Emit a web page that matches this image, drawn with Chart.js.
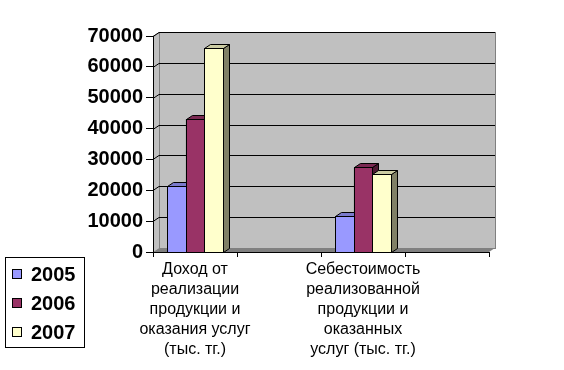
<!DOCTYPE html>
<html lang="ru">
<head>
    <meta charset="UTF-8">
    <title>Доход и себестоимость</title>
    <script src="https://cdn.jsdelivr.net/npm/chart.js"></script>
    <style>
        html, body { margin: 0; padding: 0; background: #fff; }
        #wrap { width: 564px; height: 370px; }
    </style>
</head>
<body>
    <div id="wrap"><canvas id="chart" width="564" height="370"></canvas></div>

    <script>
        // данные
        const categories = [
            ['Доход от', 'реализации', 'продукции и', 'оказания услуг', '(тыс. тг.)'],
            '',
            ['Себестоимость', 'реализованной', 'продукции и', 'оказанных', 'услуг (тыс. тг.)'],
            ''
        ];
        const years = ['2005', '2006', '2007'];
        const values2005 = [21300, null, 11700, null];
        const values2006 = [43100, null, 27400, null];
        const values2007 = [66000, null, 25400, null];
        const yTicks = [0, 10000, 20000, 30000, 40000, 50000, 60000, 70000];

        const colors = ['#9999FF', '#993366', '#FFFFCC'];
        const sideColors = ['#4D4D80', '#4D1A33', '#808066'];
        const topColors = ['#7A7ACC', '#7A2952', '#CCCCA3'];

        const DX = 6, DY = -4;
        const FONT = '"Liberation Sans", Arial, sans-serif';

        // стены, пол и линии сетки на задней стенке
        const walls = {
            id: 'walls',
            beforeDraw(chart) {
                const { ctx, chartArea: a, scales: { y } } = chart;
                ctx.save();
                // боковая стенка
                ctx.fillStyle = '#C0C0C0';
                ctx.beginPath();
                ctx.moveTo(a.left, a.top);
                ctx.lineTo(a.left + DX, a.top + DY);
                ctx.lineTo(a.left + DX, a.bottom + DY);
                ctx.lineTo(a.left, a.bottom);
                ctx.closePath();
                ctx.fill();
                // задняя стенка
                ctx.fillRect(a.left + DX, a.top + DY, a.right - a.left, a.bottom - a.top);
                ctx.strokeStyle = '#808080';
                ctx.lineWidth = 1;
                ctx.strokeRect(a.left + DX + 0.5, a.top + DY + 0.5, a.right - a.left, a.bottom - a.top);
                ctx.beginPath();
                ctx.moveTo(a.left + 0.5, a.top + 0.5);
                ctx.lineTo(a.left + DX + 0.5, a.top + DY + 0.5);
                ctx.stroke();
                // сетка
                ctx.strokeStyle = '#000';
                yTicks.forEach(v => {
                    if (v === 0) return;
                    const py = Math.round(y.getPixelForValue(v)) + 0.5;
                    ctx.beginPath();
                    ctx.moveTo(a.left, py);
                    ctx.lineTo(a.left + DX, py + DY);
                    ctx.lineTo(a.right + DX, py + DY);
                    ctx.stroke();
                });
                // пол
                ctx.fillStyle = '#808080';
                ctx.beginPath();
                ctx.moveTo(a.left, a.bottom);
                ctx.lineTo(a.left + DX, a.bottom + DY);
                ctx.lineTo(a.right + DX, a.bottom + DY);
                ctx.lineTo(a.right, a.bottom);
                ctx.closePath();
                ctx.fill();
                ctx.restore();
            }
        };

        // объёмные столбики
        const bars3d = {
            id: 'bars3d',
            afterDatasetsDraw(chart) {
                const ctx = chart.ctx;
                const list = [];
                chart.data.datasets.forEach((ds, di) => {
                    chart.getDatasetMeta(di).data.forEach((el, i) => {
                        if (ds.data[i] == null) return;
                        list.push({ el, di });
                    });
                });
                list.sort((p, q) => p.el.x - q.el.x);
                ctx.save();
                ctx.lineWidth = 1;
                ctx.strokeStyle = '#000';
                list.forEach(({ el, di }) => {
                    const l = Math.round(el.x - el.width / 2) + 0.5;
                    const r = Math.round(el.x + el.width / 2) + 0.5;
                    const t = Math.round(el.y) + 0.5;
                    const b = Math.round(el.base) + 0.5;
                    // бок
                    ctx.fillStyle = sideColors[di];
                    ctx.beginPath();
                    ctx.moveTo(r, t);
                    ctx.lineTo(r + DX, t + DY);
                    ctx.lineTo(r + DX, b + DY);
                    ctx.lineTo(r, b);
                    ctx.closePath();
                    ctx.fill();
                    ctx.stroke();
                    // верх
                    ctx.fillStyle = topColors[di];
                    ctx.beginPath();
                    ctx.moveTo(l, t);
                    ctx.lineTo(l + DX, t + DY);
                    ctx.lineTo(r + DX, t + DY);
                    ctx.lineTo(r, t);
                    ctx.closePath();
                    ctx.fill();
                    ctx.stroke();
                    // фронт
                    ctx.fillStyle = colors[di];
                    ctx.fillRect(l, t, r - l, b - t);
                    ctx.strokeRect(l, t, r - l, b - t);
                });
                ctx.restore();
            }
        };

        // легенда в рамке
        const boxLegend = {
            id: 'boxLegend',
            afterDraw(chart) {
                const ctx = chart.ctx;
                ctx.save();
                ctx.strokeStyle = '#000';
                ctx.lineWidth = 1;
                ctx.strokeRect(5.5, 257.5, 79, 90);
                ctx.font = 'bold 20px ' + FONT;
                ctx.textBaseline = 'middle';
                ctx.fillStyle = '#000';
                chart.data.datasets.forEach((ds, i) => {
                    const cy = 274 + i * 29;
                    ctx.fillStyle = ds.backgroundColor;
                    ctx.fillRect(12.5, cy - 4.5, 9, 9);
                    ctx.strokeRect(12.5, cy - 4.5, 9, 9);
                    ctx.fillStyle = '#000';
                    ctx.fillText(ds.label, 31, cy + 1);
                });
                ctx.restore();
            }
        };

        const series = [values2005, values2006, values2007];

        new Chart(document.getElementById('chart'), {
            type: 'bar',
            data: {
                labels: categories,
                datasets: years.map((yr, i) => ({
                    label: yr,
                    data: series[i],
                    backgroundColor: colors[i],
                    borderColor: '#000',
                    borderWidth: 1,
                    categoryPercentage: 0.66,
                    barPercentage: 1
                }))
            },
            options: {
                responsive: false,
                animation: false,
                layout: { padding: { top: 36, right: 75, left: 0, bottom: 0 } },
                plugins: {
                    legend: { display: false },
                    tooltip: { enabled: false }
                },
                scales: {
                    x: {
                        afterFit(scale) { scale.height = 118; },
                        grid: {
                            offset: true,
                            drawOnChartArea: false,
                            drawTicks: true,
                            tickLength: 5,
                            color: '#000'
                        },
                        border: { color: '#000' },
                        ticks: {
                            color: '#000',
                            maxRotation: 0,
                            minRotation: 0,
                            autoSkip: false,
                            padding: 3,
                            font: { family: FONT, size: 16, lineHeight: 1.25 }
                        }
                    },
                    y: {
                        min: 0,
                        max: 70000,
                        afterFit(scale) { scale.width = 153; },
                        afterBuildTicks(scale) { scale.ticks = yTicks.map(v => ({ value: v })); },
                        grid: {
                            drawOnChartArea: false,
                            drawTicks: true,
                            tickLength: 7,
                            color: '#000'
                        },
                        border: { color: '#000' },
                        ticks: {
                            color: '#000',
                            padding: 3,
                            callback: v => String(v),
                            font: { family: FONT, size: 20, weight: 'bold' }
                        }
                    }
                }
            },
            plugins: [walls, bars3d, boxLegend]
        });
    </script>
</body>
</html>
